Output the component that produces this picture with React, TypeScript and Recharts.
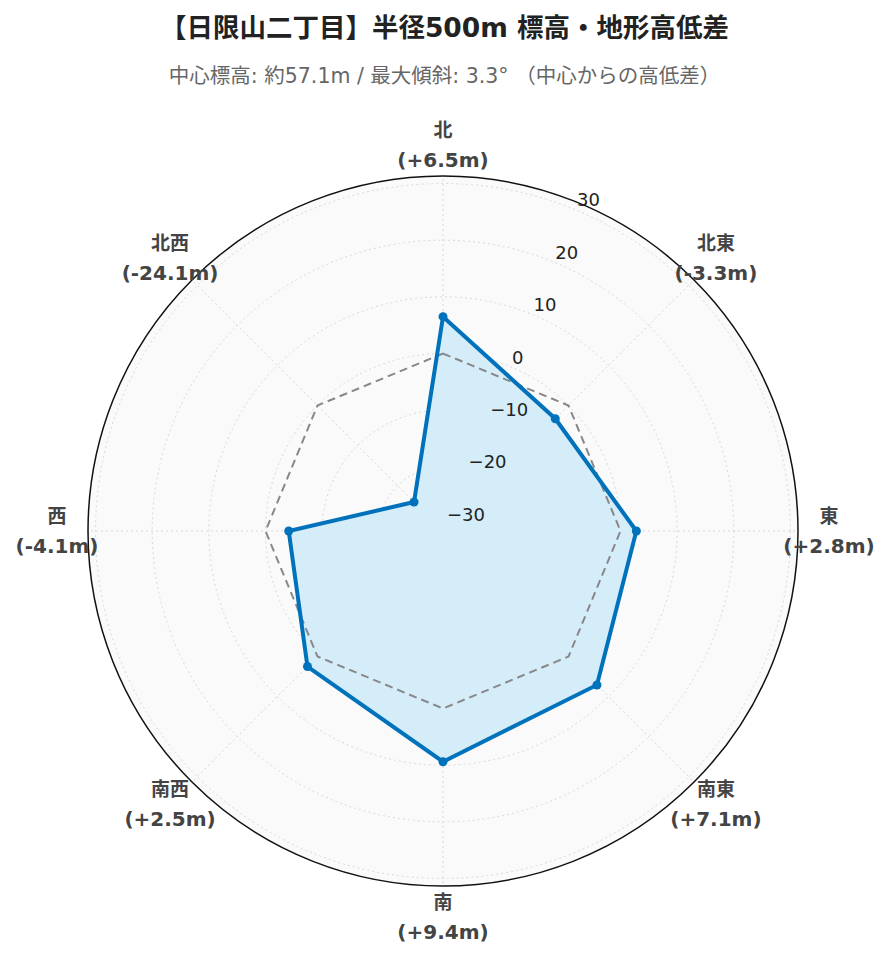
import React from 'react';
import { RadarChart, Radar, PolarGrid, PolarAngleAxis, PolarRadiusAxis } from 'recharts';

const directions = ['北', '北東', '東', '南東', '南', '南西', '西', '北西'];
const heightDiffs = [6.5, -3.3, 2.8, 7.1, 9.4, 2.5, -4.1, -24.1];
const baseline = [0, 0, 0, 0, 0, 0, 0, 0];
const radialTicks = [-30, -20, -10, 0, 10, 20, 30];
const radialDomain = [-31.33, 31.33];

const TITLE = '【日限山二丁目】半径500m 標高・地形高低差';
const SUBTITLE = '中心標高: 約57.1m / 最大傾斜: 3.3° （中心からの高低差）';

const data = directions.map((d, i) => ({ dir: d, diff: heightDiffs[i], base: baseline[i] }));

const W = 889;
const H = 962;
const CX = 443;
const CY = 531;
const OUTER = 355;
const LABEL_R = 386;
const FONT = '"DejaVu Sans", "Noto Sans CJK JP", sans-serif';

const fmtDiff = (v: number) => `(${v >= 0 ? '+' : ''}${v.toFixed(1)}m)`;

const AngleTick = (props: any) => {
  const { payload, index } = props;
  const ang = (payload.coordinate * Math.PI) / 180;
  const x = CX + LABEL_R * Math.cos(ang);
  const y = CY - LABEL_R * Math.sin(ang);
  const i = typeof index === 'number' ? index : directions.indexOf(payload.value);
  return (
    <g>
      <text x={x} y={y - 15} textAnchor="middle" dominantBaseline="central" fontFamily={FONT} fontWeight="bold" fontSize={19} fill="#444">
        {payload.value}
      </text>
      <text x={x} y={y + 15} textAnchor="middle" dominantBaseline="central" fontFamily={FONT} fontWeight="bold" fontSize={20} fill="#444">
        {fmtDiff(heightDiffs[i])}
      </text>
    </g>
  );
};

const RadiusTick = (props: any) => {
  const { x, y, payload } = props;
  const v = payload.value;
  const label = v < 0 ? `\u2212${Math.abs(v)}` : `${v}`;
  return (
    <text x={x + 1} y={y - 10} textAnchor="start" dominantBaseline="central" fontFamily={FONT} fontSize={18} fill="#222">
      {label}
    </text>
  );
};

export default function App() {
  return (
    <div style={{ position: 'absolute', left: 0, top: 0, width: W, height: H, background: '#fff' }}>
      <div
        style={{
          position: 'absolute',
          left: CX - OUTER,
          top: CY - OUTER,
          width: OUTER * 2,
          height: OUTER * 2,
          borderRadius: '50%',
          background: '#fafafa',
        }}
      />
      <div style={{ position: 'absolute', left: 0, top: 10, width: W, textAlign: 'center', fontFamily: FONT, fontWeight: 'bold', fontSize: 26.5, color: '#222', lineHeight: '36px' }}>
        {TITLE}
      </div>
      <div style={{ position: 'absolute', left: 0, top: 62, width: W, textAlign: 'center', fontFamily: FONT, fontSize: 20.5, color: '#666', lineHeight: '28px' }}>
        {SUBTITLE}
      </div>
      <div style={{ position: 'absolute', left: 0, top: 0 }}>
        <RadarChart width={W} height={H} data={data} cx={CX} cy={CY} outerRadius={OUTER} startAngle={90} endAngle={-270}>
          <Radar dataKey="diff" stroke="none" fill="#d4edf9" fillOpacity={1} isAnimationActive={false} dot={false} />
          <PolarGrid gridType="circle" stroke="#d8d8d8" strokeDasharray="2 3" strokeWidth={1} />
          <PolarAngleAxis dataKey="dir" tick={<AngleTick />} tickLine={false} axisLine={false} />
          <PolarRadiusAxis
            type="number"
            domain={radialDomain}
            ticks={radialTicks}
            angle={67.5}
            tick={<RadiusTick />}
            axisLine={false}
            tickLine={false}
            allowDataOverflow
          />
          <Radar dataKey="base" stroke="#888" strokeWidth={2} strokeDasharray="8 5" fill="none" fillOpacity={0} isAnimationActive={false} dot={false} />
          <Radar dataKey="diff" stroke="#0072bb" strokeWidth={4} fill="none" fillOpacity={0} isAnimationActive={false} dot={{ r: 4.5, fill: '#0072bb', stroke: '#0072bb', strokeWidth: 0, fillOpacity: 1 }} />
          <PolarGrid gridType="circle" polarRadius={[OUTER]} polarAngles={[]} stroke="#111" strokeWidth={1.5} />
        </RadarChart>
      </div>
    </div>
  );
}
